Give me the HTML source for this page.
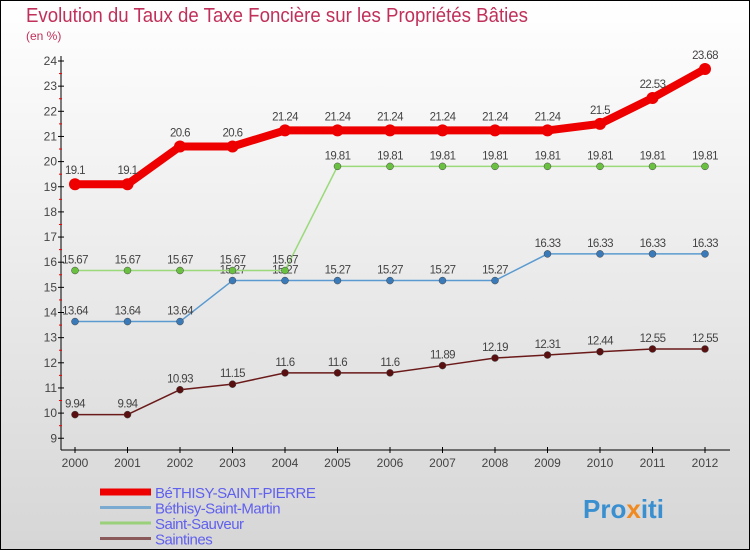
<!DOCTYPE html>
<html><head><meta charset="utf-8"><style>
body{margin:0}
#c{width:750px;height:550px;position:relative;overflow:hidden;box-sizing:border-box;border:1px solid #000;background:linear-gradient(#fff,#d6d6d6);font-family:"Liberation Sans",sans-serif}
</style></head><body>
<div id="c">
<svg id="s" width="750" height="550" style="position:absolute;left:-1px;top:-1px">
<text x="26" y="22" font-size="20" fill="#c0305a" textLength="502" lengthAdjust="spacingAndGlyphs">Evolution du Taux de Taxe Foncière sur les Propriétés Bâties</text>
<text x="26" y="40" font-size="12" fill="#c0305a">(en %)</text>
<g id="g"></g>
<text x="583" y="518" font-size="26" font-weight="bold" fill="#3a8fd0">Pro<tspan fill="#f08a20">x</tspan>iti</text>
</svg>
</div>
<script>
const years=[2000,2001,2002,2003,2004,2005,2006,2007,2008,2009,2010,2011,2012];
const yTicks=[9,10,11,12,13,14,15,16,17,18,19,20,21,22,23,24];
const sPierre=[19.1,19.1,20.6,20.6,21.24,21.24,21.24,21.24,21.24,21.24,21.5,22.53,23.68];
const sMartin=[13.64,13.64,13.64,15.27,15.27,15.27,15.27,15.27,15.27,16.33,16.33,16.33,16.33];
const sSauveur=[15.67,15.67,15.67,15.67,15.67,19.81,19.81,19.81,19.81,19.81,19.81,19.81,19.81];
const saintines=[9.94,9.94,10.93,11.15,11.6,11.6,11.6,11.89,12.19,12.31,12.44,12.55,12.55];
const names=["BéTHISY-SAINT-PIERRE","Béthisy-Saint-Martin","Saint-Sauveur","Saintines"];
const NS="http://www.w3.org/2000/svg";
const g=document.getElementById('g');
const X=i=>75+i*52.5, Y=v=>61+(24-v)*25.15;
function mk(t,a,p){const e=document.createElementNS(NS,t);for(const k in a)e.setAttribute(k,a[k]);(p||g).appendChild(e);return e;}
let ax=mk('line',{x1:61,y1:56,x2:61,y2:450,stroke:'#000'});


let xa=mk('line',{x1:61,y1:450,x2:730,y2:450,stroke:'#000'});


yTicks.forEach(v=>{mk('line',{x1:58,x2:64,y1:Y(v),y2:Y(v),stroke:'#000'});
 if(v<24)mk('line',{x1:59,x2:62,y1:Y(v+0.5),y2:Y(v+0.5),stroke:'#e00'});
 let t=mk('text',{x:57,y:Y(v)+4,'font-size':12,fill:'#444','text-anchor':'end'});t.textContent=v;
 
 });
years.forEach((y,i)=>{mk('line',{x1:X(i),x2:X(i),y1:447,y2:453,stroke:'#000'});
 let t=mk('text',{x:X(i),y:467,'font-size':12,fill:'#444','text-anchor':'middle'});t.textContent=y;
 
 });
const series=[[saintines,'#6b1a1a','#5a1010',1.5,3.5],[sMartin,'#5a9ad0','#3a7ab8',1.5,3.5],[sSauveur,'#9ada7a','#6ac040',1.5,3.5],[sPierre,'#ee0000','#ee0000',8,6]];
series.forEach(([d,c,dc,w,r],k)=>{
 let p=mk('polyline',{points:d.map((v,i)=>X(i)+','+Y(v)).join(' '),fill:'none',stroke:c,'stroke-width':w,'stroke-linejoin':'round'});
 
 
 d.forEach((v,i)=>{let ci=mk('circle',{cx:X(i),cy:Y(v),r:r,fill:dc,stroke:k==3?'none':'#444','stroke-width':0.5});
  
  
  let t=mk('text',{x:X(i),y:Y(v)-(k==3?10:7),'font-size':11.5,fill:'#444','text-anchor':'middle','letter-spacing':'-0.6'});t.textContent=v;
  
  });
});
const lc=['#ee0000','#7aaad0','#9ad07a','#8a5a5a'],lw=[7,3,3,3];
names.forEach((n,i)=>{const y=492+i*15.5;
 let l=mk('line',{x1:100,x2:151,y1:y,y2:y,stroke:lc[i],'stroke-width':lw[i]});
 
 
 let t=mk('text',{x:155,y:y+6,'font-size':15,fill:'#6060ee','letter-spacing':'-0.5'});t.textContent=n;
 
 });
</script>
</body></html>
